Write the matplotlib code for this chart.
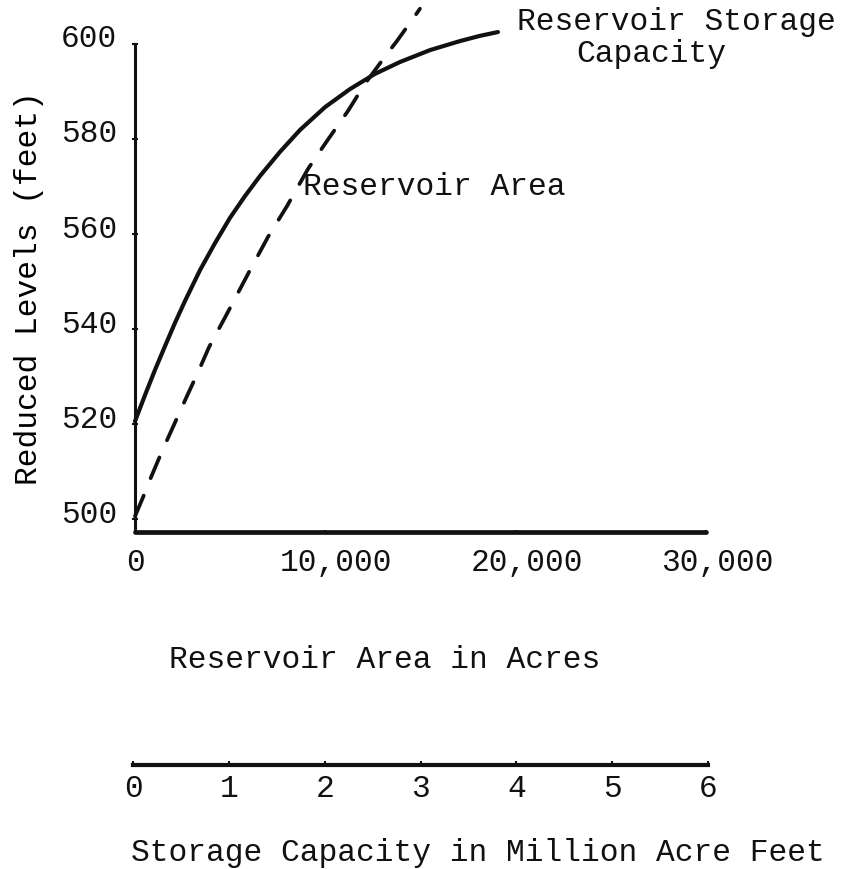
import matplotlib.pyplot as plt
from matplotlib.transforms import ScaledTranslation

# reservoir area curve (acres vs reduced level, feet)
area_acres = [0, 420, 840, 1420, 1940, 2730, 3310, 3890, 4830, 5990, 6990,
              7990, 9090, 10090, 11190, 12080, 13240, 13760, 14710, 14970]
area_level = [500.6, 504.6, 508.8, 514.3, 518.9, 525.9, 530.9, 536.2, 543.2, 552.0, 559.4,
              565.9, 573.7, 579.6, 585.9, 591.6, 597.9, 600.6, 605.9, 607.4]

# storage capacity curve (million acre feet vs reduced level)
capacity_maf = [0, 0.105, 0.21, 0.315, 0.42, 0.525, 0.683, 0.841, 0.998, 1.156, 1.313,
                1.524, 1.734, 1.997, 2.259, 2.522, 2.785, 3.10, 3.415, 3.625, 3.814]
capacity_level = [520.6, 526.1, 531.4, 536.4, 541.3, 545.9, 552.4, 558.1, 563.4, 568.0, 572.2,
                  577.3, 581.9, 586.7, 590.5, 593.7, 596.2, 598.7, 600.6, 601.7, 602.5]

level_ticks = [500, 520, 540, 560, 580, 600]
area_ticks = [0, 10000, 20000, 30000]
area_tick_labels = ['0', '10,000', '20,000', '30,000']
capacity_ticks = [0, 1, 2, 3, 4, 5, 6]

plt.rcParams['font.family'] = ['Liberation Mono', 'DejaVu Sans Mono']
plt.rcParams['font.size'] = 22.5
ink = '#111111'

W, H = 846, 870
fig = plt.figure(figsize=(W / 100, H / 100), dpi=100)

# main axes: y axis at x=135, x axis at y=533
ax = fig.add_axes([135 / W, 1 - 533 / H, 571 / W, 528 / H])
ax.set_xlim(0, 30000)
ax.set_ylim(497.3, 608.4)
for s in ['top', 'right']:
    ax.spines[s].set_visible(False)
ax.spines['left'].set_linewidth(2.2)
ax.spines['left'].set_bounds(497.3, 600)
ax.spines['bottom'].set_linewidth(3.4)
ax.spines['bottom'].set_capstyle('round')
for s in ['left', 'bottom']:
    ax.spines[s].set_color(ink)

ax.set_yticks(level_ticks)
ax.set_xticks(area_ticks)
ax.set_xticklabels(area_tick_labels)
ax.tick_params(axis='y', length=4, width=1.5, direction='inout', pad=11, colors=ink)
ax.tick_params(axis='x', length=3, width=1.5, direction='inout', pad=9, colors=ink)

# typed labels sit a little off the tick marks
for lbl in ax.get_yticklabels():
    lbl.set_transform(lbl.get_transform() + ScaledTranslation(0, 0.09, fig.dpi_scale_trans))
for lbl in ax.get_xticklabels()[1:]:
    lbl.set_transform(lbl.get_transform() + ScaledTranslation(0.11, 0, fig.dpi_scale_trans))

ax.set_ylabel('Reduced Levels (feet)')
ax.yaxis.set_label_coords(-0.160, 0.464)

ax.plot(area_acres, area_level, color=ink, lw=2.7, linestyle=(0, (6.0, 5.0)),
        dash_capstyle='round', clip_on=False)

# storage curve drawn against the capacity scale (0-6 spans the same width)
ax2 = ax.twiny()
ax2.set_xlim(0, 6)
ax2.set_ylim(ax.get_ylim())
ax2.axis('off')
ax2.plot(capacity_maf, capacity_level, color=ink, lw=3.0, solid_capstyle='round',
         solid_joinstyle='round', clip_on=False)

ax.text(8830, 570, 'Reservoir Area', ha='left', va='center', color=ink)
ax.text(20070, 604.8, 'Reservoir Storage', ha='left', va='center', color=ink)
ax.text(27110, 598.0, 'Capacity', ha='center', va='center', color=ink)

fig.text(385 / W, 1 - 660 / H, 'Reservoir Area in Acres', ha='center', va='center', color=ink)

# separate capacity scale below
bax = fig.add_axes([133 / W, 1 - 766 / H, 575 / W, 0.0001])
bax.set_xlim(0, 6)
for s in ['top', 'right', 'left']:
    bax.spines[s].set_visible(False)
bax.spines['bottom'].set_linewidth(3.0)
bax.spines['bottom'].set_color(ink)
bax.set_yticks([])
bax.set_xticks(capacity_ticks)
bax.tick_params(axis='x', length=3, width=1.5, direction='in', pad=6, colors=ink)
bax.patch.set_visible(False)

fig.text(478 / W, 1 - 853 / H, 'Storage Capacity in Million Acre Feet',
         ha='center', va='center', color=ink)

fig.savefig('out.png', dpi=100)
